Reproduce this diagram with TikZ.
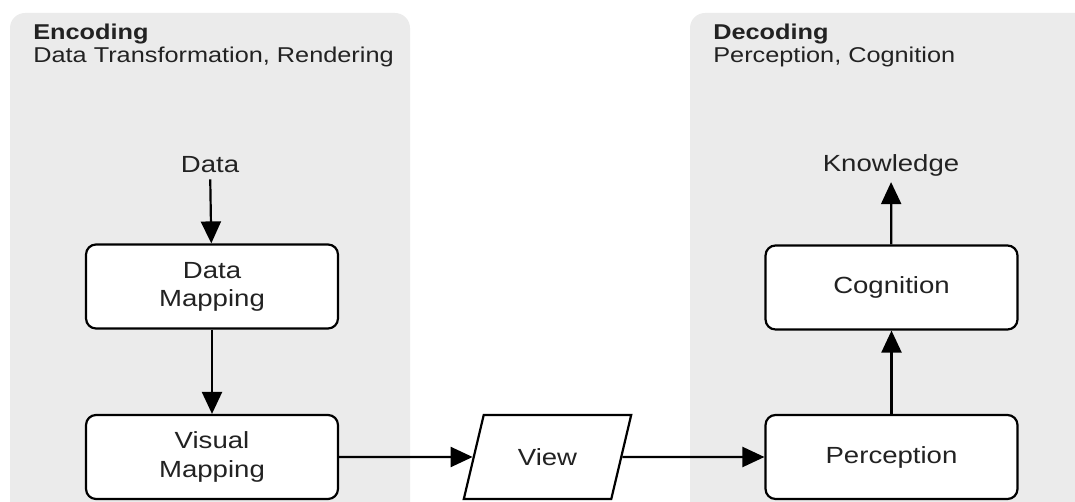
\documentclass[tikz,border=0pt]{standalone}
\usepackage{fontspec}
\setmainfont[FakeStretch=1.18]{Liberation Sans}
\usetikzlibrary{arrows.meta,shapes.geometric}

\definecolor{panelgray}{HTML}{EBEBEB}
\definecolor{inkgray}{HTML}{222222}

\begin{document}
\begin{tikzpicture}[
        x=0.02cm,
        y=-0.02cm,
        every node/.style={font=\fontsize{13.3}{16}\selectfont, text=inkgray},
        panel/.style={
            fill=panelgray,
            rounded corners=0.3cm
        },
        heading/.style={
            anchor=north west,
            inner sep=0pt,
            align=left,
            font=\fontsize{12.2}{13}\selectfont
        },
        stage/.style={
            draw,
            fill=white,
            line width=1.25pt,
            rounded corners=0.2cm,
            minimum width=5.04cm,
            minimum height=1.68cm,
            align=center
        },
        screen/.style={
            draw,
            fill=white,
            line width=1.25pt,
            trapezium,
            trapezium left angle=69,
            trapezium right angle=111,
            trapezium stretches=true,
            minimum width=3.36cm,
            minimum height=1.68cm
        },
        arrow/.style={-{Triangle[length=0.44cm,width=0.4cm]}, line width=1.25pt}
    ]

    \useasboundingbox (0,0) rectangle (1075,502);
    \clip (0,0) rectangle (1075,502);

    % =========================
    % Background panels
    % =========================
    \fill[panel] (10,540) |- (410,13) -- (410,540) -- cycle;
    \fill[panel] (690,540) |- (1110,13) -- (1110,540) -- cycle;

    \node[heading] (enc) at (33,24) {\textbf{Encoding}\\Data Transformation, Rendering};
    \node[heading] (dec) at (713,24) {\textbf{Decoding}\\Perception, Cognition};

    % =========================
    % Encoding side
    % =========================
    \node (data) at (210,165) {Data};
    \node[stage] (dmap) at (212,286.5) {Data\\Mapping};
    \node[stage] (vmap) at (212,457) {Visual\\Mapping};

    \draw[arrow] (data) -- (dmap);
    \draw[arrow] (dmap) -- (vmap);

    % =========================
    % View
    % =========================
    \node[screen] (view) at (547.5,457) {View};

    \draw[arrow] (vmap.east) -- (view.west);

    % =========================
    % Decoding side
    % =========================
    \node[stage] (perc) at (891.5,457) {Perception};
    \node[stage] (cogn) at (891.5,287.5) {Cognition};
    \node (know) at (891,165) {Knowledge};

    \draw[arrow] (view.east) -- (perc.west);
    \draw[arrow] (perc) -- (cogn);
    \draw[arrow] (cogn) -- (know);

\end{tikzpicture}
\end{document}
